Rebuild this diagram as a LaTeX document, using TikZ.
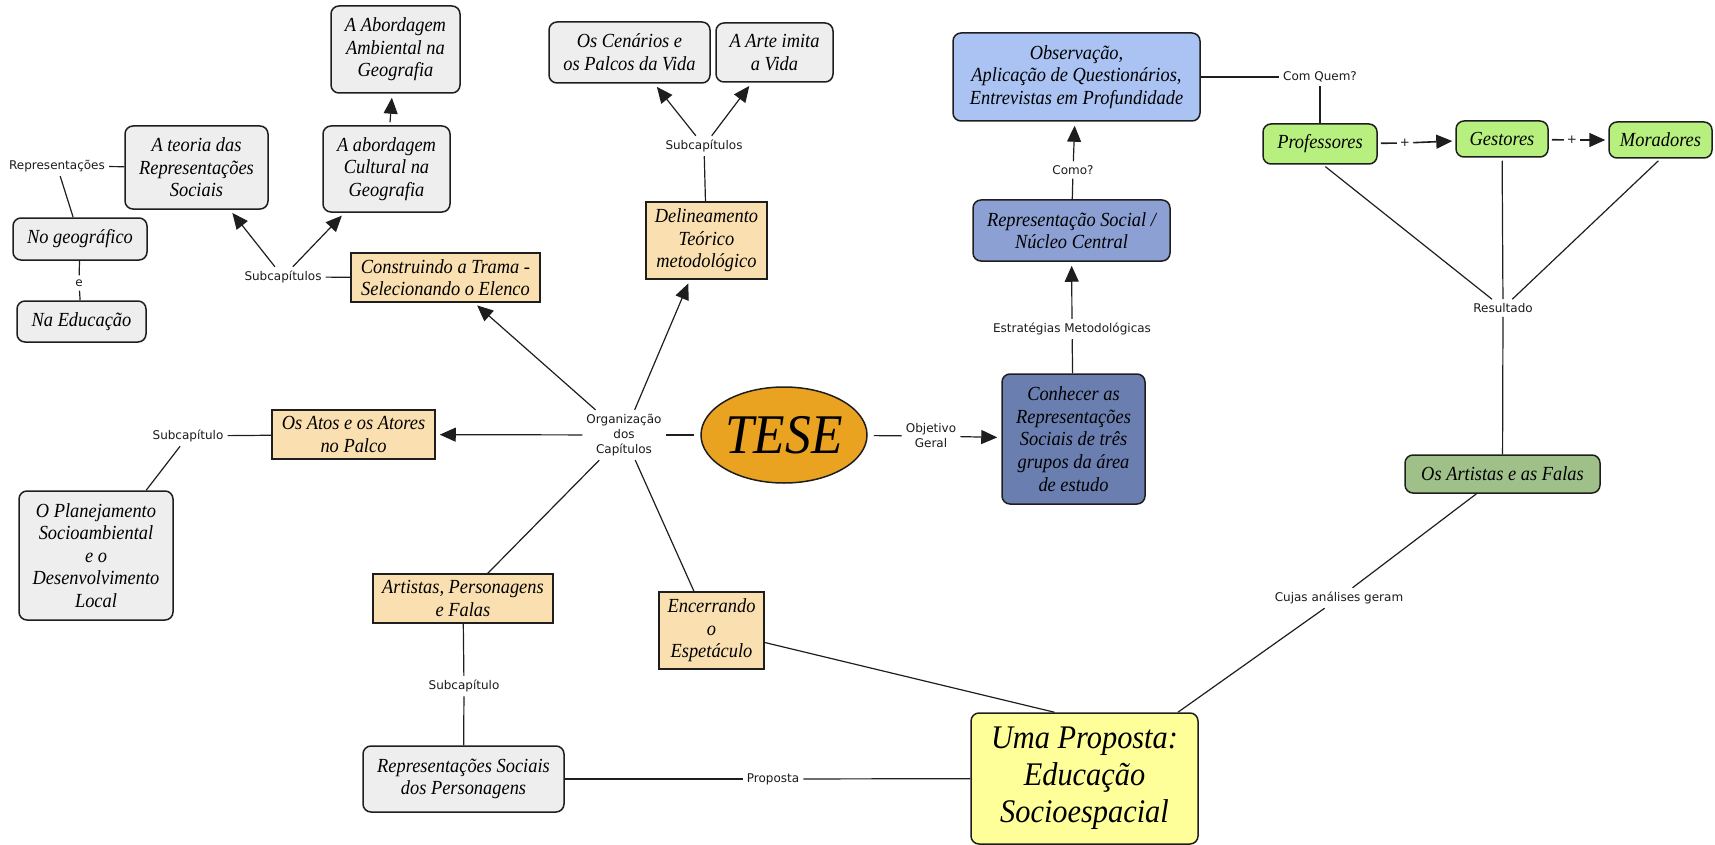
\documentclass[tikz,border=0pt]{standalone}
\usepackage{fontspec}
\setmainfont{Liberation Serif}[FakeStretch=0.92]
\newfontfamily\lblfam{DejaVu Sans}
\usetikzlibrary{shapes.geometric,arrows.meta}

\definecolor{linec}{HTML}{1E1E1E}
\definecolor{grayfill}{HTML}{EEEEEE}
\definecolor{beige}{HTML}{FAE0B0}
\definecolor{obsblue}{HTML}{AAC3F2}
\definecolor{repblue}{HTML}{8CA0D4}
\definecolor{conhblue}{HTML}{6B7EB0}
\definecolor{lgreen}{HTML}{B8F080}
\definecolor{olive}{HTML}{A0C08A}
\definecolor{lyellow}{HTML}{FFFF99}
\definecolor{teseorange}{HTML}{E9A321}
\definecolor{labelc}{HTML}{1A1A1A}

\tikzset{
  box/.style={draw=linec, line width=1.5pt, align=center, inner sep=0pt,
    font=\fontsize{20}{22.6}\selectfont\itshape},
  graybox/.style={box, fill=grayfill, rounded corners=8pt},
  beigebox/.style={box, fill=beige},
  roundbox/.style={box, rounded corners=8pt},
  lbl/.style={font=\lblfam\fontsize{12}{15}\selectfont, align=center,
    inner sep=4pt, text=labelc},
  plus/.style={font=\lblfam\fontsize{12}{12}\selectfont, inner sep=3pt, text=labelc},
  conn/.style={draw=linec, line width=1.2pt},
  arr/.style={conn, -{Triangle[length=16pt,width=14pt]}, shorten >=4pt},
}

\begin{document}
\begin{tikzpicture}[x=1pt,y=-1pt]
\useasboundingbox (0,0) rectangle (1715,845);

% ---- boxes, left part ----
\node[graybox, minimum width=129pt, minimum height=87pt] (amb) at (395.5,49.5) {A Abordagem\\Ambiental na\\Geografia};
\node[graybox, minimum width=143pt, minimum height=83pt] (teoria) at (196.5,167.5) {A teoria das\\Representações\\Sociais};
\node[graybox, minimum width=127pt, minimum height=86pt] (cult) at (386.5,169) {A abordagem\\Cultural na\\Geografia};
\node[graybox, minimum width=134pt, minimum height=42pt] (nogeo) at (80,239) {No geográfico};
\node[graybox, minimum width=129pt, minimum height=41pt] (naedu) at (81.5,321.5) {Na Educação};
\node[beigebox, minimum width=189pt, minimum height=49pt] (constr) at (445.5,277.5) {Construindo a Trama -\\Selecionando o Elenco};
\node[graybox, minimum width=161pt, minimum height=61pt] (cen) at (629.5,52.5) {Os Cenários e\\os Palcos da Vida};
\node[graybox, minimum width=117pt, minimum height=59pt] (arte) at (774.5,52.5) {A Arte imita\\a Vida};
\node[beigebox, minimum width=121pt, minimum height=77pt] (delin) at (706.5,240.5) {Delineamento\\Teórico\\metodológico};
\node[beigebox, minimum width=163pt, minimum height=49pt] (atos) at (353.5,434.5) {Os Atos e os Atores\\no Palco};
\node[graybox, minimum width=154pt, minimum height=129pt] (plan) at (96,555.5) {O Planejamento\\Socioambiental\\e o\\Desenvolvimento\\Local};
\node[beigebox, minimum width=180pt, minimum height=49pt] (artp) at (463,598.5) {Artistas, Personagens\\e Falas};
\node[beigebox, minimum width=105pt, minimum height=77pt] (enc) at (711.5,630.5) {Encerrando\\o\\Espetáculo};
\node[graybox, minimum width=201pt, minimum height=66pt] (repp) at (463.5,779) {Representações Sociais\\dos Personagens};

% ---- central node ----
\node[ellipse, draw=linec, line width=1.5pt, fill=teseorange, minimum width=166pt,
  minimum height=96pt, inner sep=0pt, font=\fontsize{56}{56}\selectfont\itshape] (tese) at (784,435) {TESE};

% ---- boxes, right part ----
\node[roundbox, fill=obsblue, minimum width=247pt, minimum height=88pt] (obs) at (1076.5,77) {Observação,\\Aplicação de Questionários,\\Entrevistas em Profundidade};
\node[roundbox, fill=repblue, minimum width=197pt, minimum height=61pt] (repsoc) at (1071.5,230.5) {Representação Social /\\Núcleo Central};
\node[roundbox, fill=conhblue, minimum width=143pt, minimum height=130pt] (conh) at (1073.5,439) {Conhecer as\\Representações\\Sociais de três\\grupos da área\\de estudo};
\node[roundbox, fill=lgreen, minimum width=114pt, minimum height=40pt] (prof) at (1320,144) {Professores};
\node[roundbox, fill=lgreen, minimum width=92pt, minimum height=36pt] (gest) at (1502,139) {Gestores};
\node[roundbox, fill=lgreen, minimum width=103pt, minimum height=36pt] (mor) at (1660.5,140) {Moradores};
\node[roundbox, fill=olive, minimum width=195pt, minimum height=38pt] (artf) at (1502.5,474) {Os Artistas e as Falas};
\node[roundbox, fill=lyellow, minimum width=227pt, minimum height=131pt,
  font=\fontsize{33}{37}\selectfont\itshape] (uma) at (1084.5,778.5) {Uma Proposta:\\Educação\\Socioespacial};

% ---- linking phrases ----
\node[lbl] (Lrep) at (57,166) {Representações};
\node[lbl] (Le) at (79,283) {e};
\node[lbl] (Lsub1) at (283,277) {Subcapítulos};
\node[lbl] (Lsub2) at (704,146) {Subcapítulos};
\node[lbl] (Lorg) at (624,435) {Organização\\dos\\Capítulos};
\node[lbl] (Lobj) at (931,436) {Objetivo\\Geral};
\node[lbl] (Lest) at (1072,329) {Estratégias Metodológicas};
\node[lbl] (Lcomo) at (1073,170) {Como?};
\node[lbl] (Lcq) at (1320,77) {Com Quem?};
\node[lbl] (Lres) at (1503,308) {Resultado};
\node[lbl] (Lcuj) at (1339,598) {Cujas análises geram};
\node[lbl] (Lsub3) at (188,436) {Subcapítulo};
\node[lbl] (Lsub4) at (464,686) {Subcapítulo};
\node[lbl] (Lprop) at (773,779) {Proposta};
\node[plus] (Lp1) at (1405,143) {+};
\node[plus] (Lp2) at (1572,140) {+};

% ---- connectors ----
\draw[conn] (teoria) -- (Lrep);
\draw[conn] (Lrep) -- (nogeo);
\draw[conn] (nogeo) -- (Le);
\draw[conn] (Le) -- (naedu);

\draw[conn] (constr) -- (Lsub1);
\draw[arr] (Lsub1) -- (teoria);
\draw[arr] (Lsub1) -- (cult);
\draw[arr, shorten <=3pt] (cult) -- (amb);

\draw[conn] (delin) -- (Lsub2);
\draw[arr] (Lsub2) -- (cen);
\draw[arr] (Lsub2) -- (arte);

\draw[conn, shorten <=6pt] (tese) -- (Lorg);
\draw[arr] (Lorg) -- (constr);
\draw[arr] (Lorg) -- (delin);
\draw[arr] (Lorg) -- (atos);
\draw[conn] (Lorg) -- (artp);
\draw[conn] (Lorg) -- (enc);

\draw[conn] (atos) -- (Lsub3);
\draw[conn] (Lsub3) -- (plan);

\draw[conn] (artp) -- (Lsub4);
\draw[conn] (Lsub4) -- (repp);
\draw[conn] (repp) -- (Lprop);
\draw[conn] (Lprop) -- (uma);

\draw[conn] ([yshift=-12pt]enc.east) -- ([xshift=-30pt]uma.north);

\draw[conn, shorten <=6pt] (tese) -- (Lobj);
\draw[arr] (Lobj) -- (conh);
\draw[conn] (conh) -- (Lest);
\draw[arr] (Lest) -- (repsoc);
\draw[conn] (repsoc) -- (Lcomo);
\draw[arr] (Lcomo) -- (obs);

\draw[conn] (obs) -- (Lcq);
\draw[conn] (Lcq) -- (prof);
\draw[conn, line width=1.6pt, shorten <=3pt] (prof) -- (Lp1);
\draw[arr, line width=1.6pt, shorten >=3pt] (Lp1) -- (gest);
\draw[conn, line width=1.6pt, shorten <=3pt] (gest) -- (Lp2);
\draw[arr, line width=1.6pt, shorten >=3pt] (Lp2) -- (mor);

\draw[conn, shorten >=3pt] (Lres) -- ([xshift=3pt]prof.south);
\draw[conn, shorten >=3pt] (Lres) -- (gest);
\draw[conn, shorten >=3pt] (Lres) -- (mor.south);
\draw[conn] (Lres) -- (artf);
\draw[conn] (artf) -- (Lcuj);
\draw[conn] (Lcuj) -- (uma);
\end{tikzpicture}
\end{document}
